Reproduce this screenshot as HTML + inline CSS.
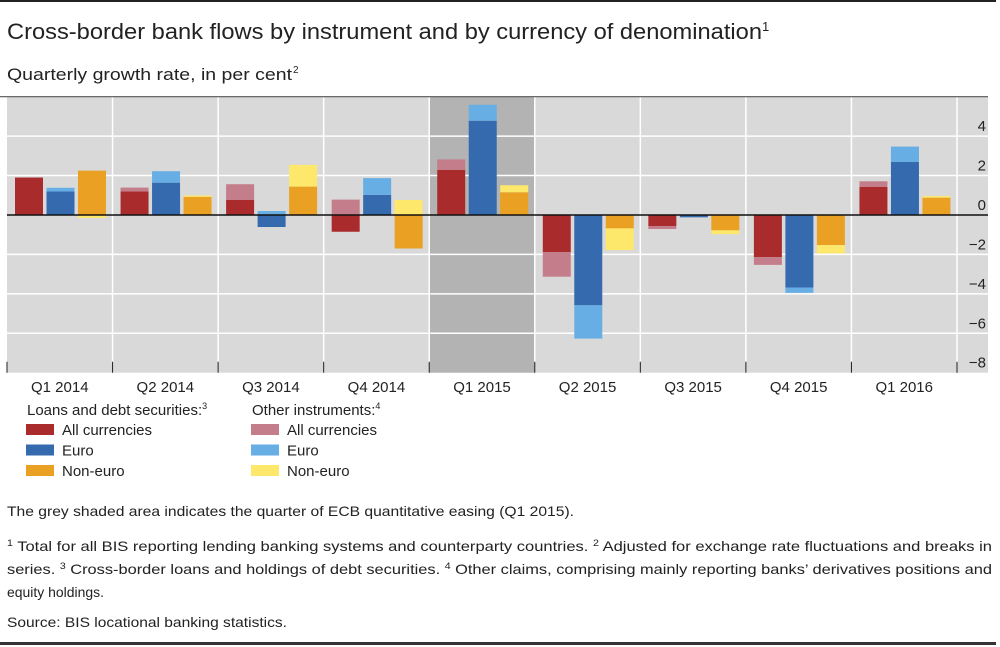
<!DOCTYPE html>
<html><head><meta charset="utf-8"><style>
html,body{margin:0;padding:0;background:#fff;width:1000px;height:647px;overflow:hidden}
svg{display:block;font-family:"Liberation Sans",sans-serif}
</style></head><body>
<svg id="chart" width="1000" height="647" viewBox="0 0 1000 647">
<rect x="0" y="0" width="996" height="2" fill="#222"/>
<text x="7" y="39" font-size="22" fill="#222" textLength="755" lengthAdjust="spacingAndGlyphs">Cross-border bank flows by instrument and by currency of denomination</text>
<text x="762" y="31" font-size="13" fill="#222">1</text>
<text x="7" y="80" font-size="17" fill="#222" textLength="285" lengthAdjust="spacingAndGlyphs">Quarterly growth rate, in per cent</text>
<text x="293" y="73" font-size="10" fill="#222">2</text>
<g id="plot"></g>
<g id="legend"></g>
<text x="7" y="516" font-size="14" fill="#222" textLength="567" lengthAdjust="spacingAndGlyphs">The grey shaded area indicates the quarter of ECB quantitative easing (Q1 2015).</text>
<g font-size="14" fill="#222">
<text x="7" y="551" textLength="985" lengthAdjust="spacingAndGlyphs"><tspan font-size="9" dy="-5">1</tspan><tspan dy="5"> Total for all BIS reporting lending banking systems and counterparty countries.   </tspan><tspan font-size="9" dy="-5">2</tspan><tspan dy="5"> Adjusted for exchange rate fluctuations and breaks in</tspan></text>
<text x="7" y="574" textLength="985" lengthAdjust="spacingAndGlyphs">series.   <tspan font-size="9" dy="-5">3</tspan><tspan dy="5"> Cross-border loans and holdings of debt securities.   </tspan><tspan font-size="9" dy="-5">4</tspan><tspan dy="5"> Other claims, comprising mainly reporting banks’ derivatives positions and</tspan></text>
<text x="7" y="597" textLength="97" lengthAdjust="spacingAndGlyphs">equity holdings.</text>
</g>
<text x="7" y="627" font-size="14" fill="#222" textLength="280" lengthAdjust="spacingAndGlyphs">Source: BIS locational banking statistics.</text>
<rect x="0" y="642" width="996" height="3" fill="#333"/>
</svg>
<script>
const categories=["Q1 2014","Q2 2014","Q3 2014","Q4 2014","Q1 2015","Q2 2015","Q3 2015","Q4 2015","Q1 2016"];
const loansAll=[1.9,1.19,0.76,-0.85,2.29,-1.88,-0.56,-2.14,1.42];
const otherAll=[0,0.2,0.8,0.78,0.53,-1.25,-0.15,-0.39,0.29];
const loansEuro=[1.19,1.64,-0.61,1.02,4.78,-4.58,-0.12,-3.68,2.69];
const otherEuro=[0.19,0.58,0.2,0.85,0.81,-1.69,0,-0.27,0.78];
const loansNonEuro=[2.25,0.92,1.44,-1.7,1.15,-0.68,-0.78,-1.53,0.88];
const otherNonEuro=[-0.15,0.07,1.1,0.76,0.36,-1.1,-0.19,-0.42,0.08];
const yTicks=[4,2,0,-2,-4,-6,-8];
const shadedCategory="Q1 2015";

const NS="http://www.w3.org/2000/svg";
const L=7,R=957,BGR=988,T=96.7,B=372.7,YMAX=6,YMIN=-8;
const bw=(R-L)/categories.length;
function y(v){return T+(YMAX-v)*(B-T)/(YMAX-YMIN);}
function xCat(i){return L+i*bw;}
function mk(tag,attrs,parent){const e=document.createElementNS(NS,tag);for(const k in attrs)e.setAttribute(k,attrs[k]);parent.appendChild(e);return e;}
const plot=document.getElementById('plot');
let e=mk('rect',{x:L,y:T,width:BGR-L,height:B-T,fill:'#d9d9d9'},plot);


const si=categories.indexOf(shadedCategory);
e=mk('rect',{x:xCat(si),y:T,width:bw,height:B-T,fill:'#b3b3b3'},plot);


yTicks.forEach(t=>{
  if(t!==0&&t>YMIN){const g=mk('line',{x1:L,x2:BGR,y1:y(t),y2:y(t),stroke:'#fff','stroke-width':1.5},plot);
  
  }
  const lb=mk('text',{x:986,y:y(t)-5,'text-anchor':'end','font-size':15,fill:'#222'},plot);
  lb.textContent=(t<0?'\u2212':'')+Math.abs(t);
  
  
});
for(let i=1;i<=categories.length;i++){
  const v=mk('line',{x1:xCat(i),x2:xCat(i),y1:T,y2:B-10,stroke:'#fff','stroke-width':1.5},plot);
  
  
}
for(let i=0;i<=categories.length;i++){
  const tk=mk('line',{x1:xCat(i),x2:xCat(i),y1:B-11,y2:B,stroke:'#222','stroke-width':1},plot);
  
  
}
const series=[[loansAll,otherAll,'#aa2b2b','#c47d8a','all'],[loansEuro,otherEuro,'#356aae','#66aee3','euro'],[loansNonEuro,otherNonEuro,'#e9a023','#fde86b','noneuro']];
categories.forEach((c,i)=>{
  series.forEach((s,j)=>{
    const x0=xCat(i)+8+j*31.5;
    const a=s[0][i],b=s[1][i];
    let pos=0,neg=0;
    [[a,s[2],'loans'],[b,s[3],'other']].forEach(([v,col,kind])=>{
      let y1,y2;
      if(v>=0){y1=y(pos+v);y2=y(pos);pos+=v;}else{y1=y(neg);y2=y(neg+v);neg+=v;}
      const r=mk('rect',{x:x0,y:y1,width:28,height:Math.max(0,y2-y1),fill:col},plot);
      
      
    });
  });
  const lb=mk('text',{x:xCat(i)+bw/2,y:392,'text-anchor':'middle','font-size':15,fill:'#222'},plot);
  lb.textContent=c;
  
  
});
e=mk('line',{x1:L,x2:BGR,y1:y(0),y2:y(0),stroke:'#111','stroke-width':1.5},plot);


e=mk('line',{x1:0,x2:BGR,y1:T,y2:T,stroke:'#555','stroke-width':1.2},plot);



const leg=document.getElementById('legend');
const groups=[[27,'Loans and debt securities:','3',['#aa2b2b','#356aae','#e9a023']],[252,'Other instruments:','4',['#c47d8a','#66aee3','#fde86b']]];
const names=['All currencies','Euro','Non-euro'];
groups.forEach(g=>{
  const h=mk('text',{x:g[0],y:415,'font-size':15,fill:'#222'},leg);
  h.textContent=g[1];
  
  
  const sp=mk('tspan',{'font-size':9,dy:-6},h);sp.textContent=g[2];
  names.forEach((n,k)=>{
    const sw=mk('rect',{x:g[0]-1,y:424+k*20.5,width:28,height:11,fill:g[3][k]},leg);
    
    
    const t=mk('text',{x:g[0]+35,y:435+k*20.5,'font-size':15,fill:'#222'},leg);
    t.textContent=n;
    
    
  });
});
</script>
</body></html>
